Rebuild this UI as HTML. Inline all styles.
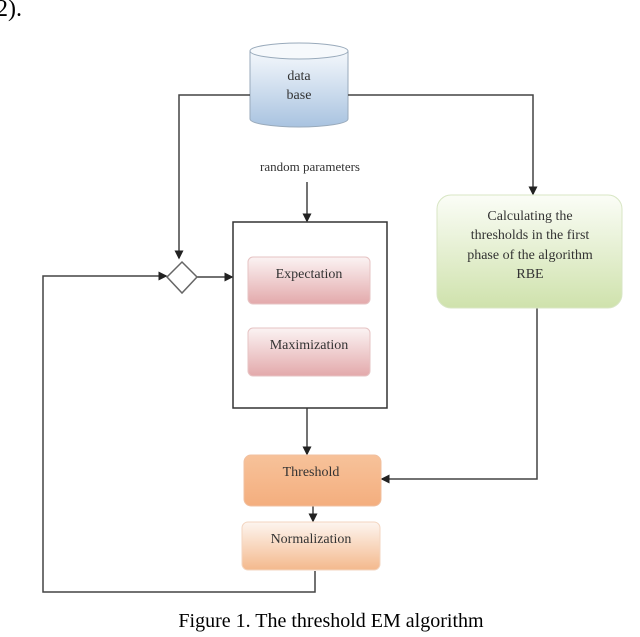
<!DOCTYPE html>
<html><head><meta charset="utf-8"><style>
body{margin:0;background:#fff;width:640px;height:632px;overflow:hidden}
</style></head><body>
<svg width="640" height="632" xmlns="http://www.w3.org/2000/svg" font-family="Liberation Serif, serif">
<defs>
<linearGradient id="blue" x1="0" y1="0" x2="0" y2="1"><stop offset="0" stop-color="#f4f8fc"/><stop offset="1" stop-color="#a9c3e0"/></linearGradient>
<linearGradient id="green" x1="0" y1="0" x2="0" y2="1"><stop offset="0" stop-color="#fbfdf7"/><stop offset="1" stop-color="#cfe2ac"/></linearGradient>
<linearGradient id="red" x1="0" y1="0" x2="0" y2="1"><stop offset="0" stop-color="#fbf3f3"/><stop offset="1" stop-color="#e3a9ab"/></linearGradient>
<linearGradient id="orange" x1="0" y1="0" x2="0" y2="1"><stop offset="0" stop-color="#f7c29a"/><stop offset="1" stop-color="#f4ae7e"/></linearGradient>
<linearGradient id="orange2" x1="0" y1="0" x2="0" y2="1"><stop offset="0" stop-color="#fdf5ef"/><stop offset="1" stop-color="#f4b98d"/></linearGradient>
<marker id="a" markerWidth="6" markerHeight="6" refX="5" refY="3" orient="auto"><path d="M0,0 L6,3 L0,6z" fill="#222"/></marker>
</defs>
<text x="-4" y="16" font-size="24" fill="#000">2).</text>
<!-- cylinder -->
<path d="M250,51 L250,119 A49,8 0 0 0 348,119 L348,51" fill="url(#blue)" stroke="#9ab" stroke-width="1"/>
<ellipse cx="299" cy="51" rx="49" ry="8" fill="#f6f9fc" stroke="#9ab"/>
<text x="299" y="80" font-size="14" text-anchor="middle" fill="#333">data</text>
<text x="299" y="99" font-size="14" text-anchor="middle" fill="#333">base</text>
<g stroke="#444" stroke-width="1.5" fill="none">
<path d="M250,95 H179 V258" marker-end="url(#a)"/>
<path d="M348,95 H533 V194" marker-end="url(#a)"/>
<path d="M307,182 V221" marker-end="url(#a)"/>
<path d="M197,277 H232" marker-end="url(#a)"/>
<path d="M315,571 V592 H43 V276 H166" marker-end="url(#a)"/>
<path d="M307,408 V454" marker-end="url(#a)"/>
<path d="M313,506 V521" marker-end="url(#a)"/>
<path d="M537,308 V479 H382" marker-end="url(#a)"/>
</g>
<polygon points="182,262 197,277 182,293 167,277" fill="#fff" stroke="#666" stroke-width="1.5"/>
<text x="310" y="171" font-size="13" text-anchor="middle" fill="#333">random parameters</text>
<rect x="233" y="222" width="154" height="186" fill="#fff" stroke="#333" stroke-width="1.5"/>
<rect x="248" y="257" width="122" height="47" rx="5" fill="url(#red)" stroke="#e6c3c3"/>
<text x="309" y="278" font-size="14" text-anchor="middle" fill="#333">Expectation</text>
<rect x="248" y="328" width="122" height="48" rx="5" fill="url(#red)" stroke="#e6c3c3"/>
<text x="309" y="349" font-size="14" text-anchor="middle" fill="#333">Maximization</text>
<rect x="437" y="195" width="185" height="113" rx="14" fill="url(#green)" stroke="#d8e6c4"/>
<g font-size="14" text-anchor="middle" fill="#333">
<text x="530" y="220">Calculating the</text>
<text x="530" y="239">thresholds in the first</text>
<text x="530" y="259">phase of the algorithm</text>
<text x="530" y="278">RBE</text>
</g>
<rect x="244" y="455" width="137" height="51" rx="7" fill="url(#orange)" stroke="#f0c0a0"/>
<text x="311" y="476" font-size="14" text-anchor="middle" fill="#333">Threshold</text>
<rect x="242" y="522" width="138" height="48" rx="6" fill="url(#orange2)" stroke="#f3d5c0"/>
<text x="311" y="543" font-size="14" text-anchor="middle" fill="#333">Normalization</text>
<text x="331" y="627" font-size="20" text-anchor="middle" fill="#000">Figure 1. The threshold EM algorithm</text>
</svg>
</body></html>
